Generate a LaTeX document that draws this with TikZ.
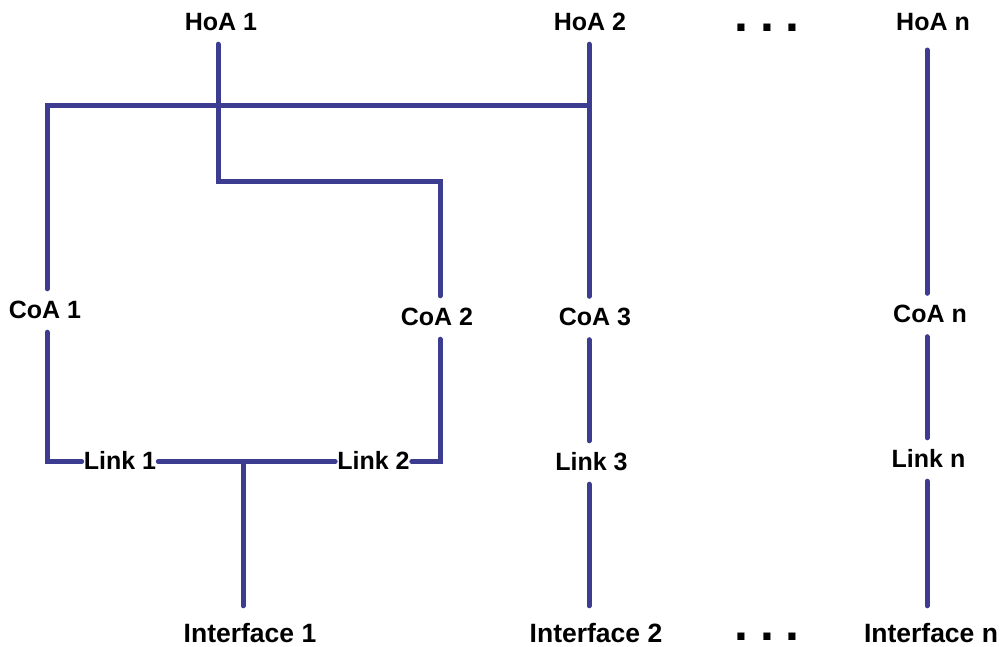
\documentclass[tikz,border=0pt]{standalone}
\usepackage{fontspec}
\setmainfont{Liberation Sans}
\definecolor{wirecol}{RGB}{60,60,145}
\begin{document}
\begin{tikzpicture}[x=1pt,y=-1pt,
  lbl/.style={font=\bfseries\fontsize{25}{25}\selectfont, anchor=base,
    text height=18pt, text depth=3pt, inner xsep=2pt, inner ysep=11pt},
  iface/.style={lbl, font=\bfseries\fontsize{26.5}{26.5}\selectfont, inner ysep=18pt},
  dotsrow/.style={font=\bfseries\fontsize{50}{50}\selectfont, anchor=base,
    text height=9pt, text depth=0pt, inner sep=0pt},
  wire/.style={draw=wirecol, line width=5pt, line cap=round, line join=miter}]
\useasboundingbox (0,0) rectangle (1007,646);

% top row: home addresses
\node[lbl] (hoa1) at (221,30) {HoA 1};
\node[lbl] (hoa2) at (590,30) {HoA 2};
\node[lbl] (hoan) at (933,30) {HoA n};
\node[dotsrow] (dtop) at (767,31) {.\hspace{12pt}.\hspace{12pt}.};

% care-of addresses
\node[lbl] (coa1) at (45,318) {CoA 1};
\node[lbl] (coa2) at (437,325) {CoA 2};
\node[lbl] (coa3) at (595,325.5) {CoA 3};
\node[lbl] (coan) at (930,322.5) {CoA n};

% links
\node[lbl] (link1) at (120,469) {Link 1};
\node[lbl] (link2) at (373.5,469) {Link 2};
\node[lbl] (link3) at (591.5,470) {Link 3};
\node[lbl] (linkn) at (928.5,467) {Link n};

% interfaces
\node[iface] (if1) at (250,642) {Interface 1};
\node[iface] (if2) at (596,642) {Interface 2};
\node[iface] (ifn) at (931,642) {Interface n};
\node[dotsrow] (dbot) at (767,640) {.\hspace{12pt}.\hspace{12pt}.};

% routing corners
\coordinate (b1) at (47,105);
\coordinate (b2) at (589,105);
\coordinate (k1) at (218,181);
\coordinate (k2) at (440,181);
\coordinate (j1) at (243,0);
\coordinate (cn) at (927,50);

% HoA 1 to CoA 2
\draw[wire] (hoa1.south -| k1) -- (k1) -- (k2) -- (k2 |- coa2.north);
% HoA 2 branch to CoA 1
\draw[wire] (b2) -- (b1) -- (b1 |- coa1.north);
% CoA 1 to Link 1
\draw[wire] (b1 |- coa1.south) -- (b1 |- link1.west) -- (link1.west);
% Link 1 to Link 2 and up to CoA 2
\draw[wire] (link1.east) -- (link2.west);
\draw[wire] (link2.east) -- (k2 |- link2.east) -- (k2 |- coa2.south);
% shared interface 1
\draw[wire] (j1 |- link1.east) -- (j1 |- if1.north);

% column of HoA 2
\draw[wire] (hoa2.south -| b2) -- (b2 |- coa3.north);
\draw[wire] (b2 |- coa3.south) -- (b2 |- link3.north);
\draw[wire] (b2 |- link3.south) -- (b2 |- if2.north);

% column of HoA n
\draw[wire] (cn) -- (cn |- coan.north);
\draw[wire] (cn |- coan.south) -- (cn |- linkn.north);
\draw[wire] (cn |- linkn.south) -- (cn |- ifn.north);
\end{tikzpicture}
\end{document}
